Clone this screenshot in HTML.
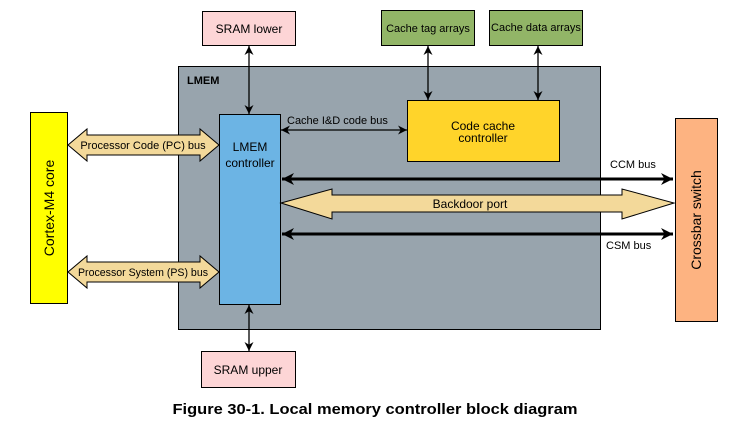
<!DOCTYPE html>
<html><head><meta charset="utf-8"><style>
body{margin:0;background:#fff;}
svg text{font-family:"Liberation Sans",sans-serif;}
</style></head><body>
<svg width="751" height="423" viewBox="0 0 751 423" xmlns="http://www.w3.org/2000/svg">
<defs>
<marker id="a" viewBox="0 0 10 10" refX="10" refY="5" markerWidth="9" markerHeight="9" markerUnits="userSpaceOnUse" orient="auto-start-reverse"><path d="M0,0 L10,5 L0,10 L3,5 z" fill="#000"/></marker>
<marker id="b" viewBox="0 0 10 10" refX="10" refY="5" markerWidth="16" markerHeight="12" markerUnits="userSpaceOnUse" orient="auto-start-reverse"><path d="M0,0 L10,5 L0,10 L3,5 z" fill="#000"/></marker>
</defs>
<rect x="178.5" y="66.5" width="422" height="263" fill="#98a4ad" stroke="#000"/>
<text x="187" y="84" font-size="11" font-weight="bold">LMEM</text>
<rect x="202.5" y="11.5" width="93" height="34" fill="#fdd5d6" stroke="#000"/>
<text x="249" y="33" font-size="12" text-anchor="middle">SRAM lower</text>
<rect x="381.5" y="10.5" width="93" height="35" fill="#92b567" stroke="#000"/>
<text x="428" y="32" font-size="11" text-anchor="middle">Cache tag arrays</text>
<rect x="489.5" y="10.5" width="93" height="35" fill="#92b567" stroke="#000"/>
<text x="536" y="31" font-size="11" text-anchor="middle">Cache data arrays</text>
<rect x="201.5" y="351.5" width="94" height="36" fill="#fdd5d6" stroke="#000"/>
<text x="248" y="374" font-size="12" text-anchor="middle">SRAM upper</text>
<rect x="30.5" y="112.5" width="37" height="191" fill="#ffff00" stroke="#000"/>
<text transform="translate(54,208) rotate(-90)" font-size="14" text-anchor="middle">Cortex-M4 core</text>
<rect x="675.5" y="118.5" width="42" height="203" fill="#fdb381" stroke="#000"/>
<text transform="translate(701,220) rotate(-90)" font-size="14" text-anchor="middle">Crossbar switch</text>
<rect x="219.5" y="114.5" width="61" height="190" fill="#6cb4e4" stroke="#000"/>
<text x="250" y="151" font-size="12" text-anchor="middle">LMEM</text>
<text x="250" y="167" font-size="12" text-anchor="middle">controller</text>
<rect x="407.5" y="100.5" width="152" height="61" fill="#ffd42a" stroke="#000"/>
<text x="483" y="130" font-size="12" text-anchor="middle">Code cache</text>
<text x="483" y="142" font-size="12" text-anchor="middle">controller</text>
<g stroke="#000" stroke-width="1.3" fill="none">
<line x1="249" y1="46" x2="249" y2="114" marker-start="url(#a)" marker-end="url(#a)"/>
<line x1="428" y1="46" x2="428" y2="100" marker-start="url(#a)" marker-end="url(#a)"/>
<line x1="538" y1="46" x2="538" y2="100" marker-start="url(#a)" marker-end="url(#a)"/>
<line x1="249" y1="305" x2="249" y2="351" marker-start="url(#a)" marker-end="url(#a)"/>
<line x1="281" y1="130" x2="407" y2="130" marker-start="url(#a)" marker-end="url(#a)"/>
</g>
<g stroke="#000" stroke-width="3" fill="none">
<line x1="282" y1="179" x2="673" y2="179" marker-start="url(#b)" marker-end="url(#b)"/>
<line x1="282" y1="234" x2="673" y2="234" marker-start="url(#b)" marker-end="url(#b)"/>
</g>
<text x="287" y="124" font-size="11">Cache I&amp;D code bus</text>
<text x="610" y="168" font-size="11">CCM bus</text>
<text x="606" y="249" font-size="11">CSM bus</text>
<path d="M281,203 L332,189 L332,195 L622,195 L622,189 L674,203 L622,219 L622,212 L332,212 L332,219 Z" fill="#f3d99a" stroke="#000"/>
<text x="470" y="208" font-size="12" text-anchor="middle">Backdoor port</text>
<path d="M68,145 L87,129 L87,135 L200,135 L200,129 L219,145 L200,161 L200,155 L87,155 L87,161 Z" fill="#f3d99a" stroke="#000"/>
<text x="143" y="149" font-size="11" text-anchor="middle">Processor Code (PC) bus</text>
<path d="M68,272 L87,256 L87,262 L200,262 L200,256 L219,272 L200,288 L200,282 L87,282 L87,288 Z" fill="#f3d99a" stroke="#000"/>
<text x="143" y="276" font-size="11" text-anchor="middle" textLength="130" lengthAdjust="spacingAndGlyphs">Processor System (PS) bus</text>
<text x="375" y="414" font-size="15" font-weight="bold" text-anchor="middle" textLength="405" lengthAdjust="spacingAndGlyphs">Figure 30-1. Local memory controller block diagram</text>
</svg>
</body></html>
